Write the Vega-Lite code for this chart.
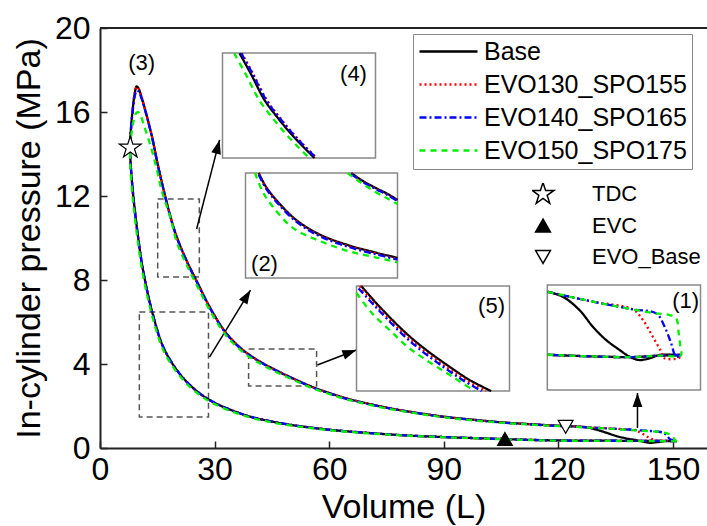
{
"$schema":"https://vega.github.io/schema/vega-lite/v6.json",
"width":607,"height":420,
"autosize":{"type":"none"},
"padding":{"left":100,"top":28,"right":0,"bottom":78},
"background":"white",
"config":{
 "view":{"stroke":null},
 "font":"Liberation Sans",
 "axis":{"domainColor":"#222","domainWidth":2,"tickColor":"#222","tickWidth":1.5,"tickSize":-7,"labelFont":"Liberation Sans","labelFontSize":32,"labelColor":"black","titleFont":"Liberation Sans","titleFontSize":34,"titleFontWeight":"normal","titleColor":"black","grid":false,"labelFlush":false,"labelOverlap":false}
},
"datasets":{
"frame":[{"v":0,"v2":158.9,"p":20}],
"boxes":[{"v":15.1,"v2":26.0,"p":8.14,"p2":11.86},{"v":10.3,"v2":28.4,"p":1.48,"p2":6.48},{"v":38.9,"v2":56.7,"p":2.95,"p2":4.71}],
"insets":[{"v":32.07,"v2":72.12,"p":13.81,"p2":18.81},{"v":38.09,"v2":77.88,"p":8.1,"p2":13.1},{"v":67.15,"v2":107.2,"p":2.71,"p2":7.71},{"v":117.1,"v2":157.2,"p":2.76,"p2":7.76}],
"arrows":[{"v":25.3,"p":10.43,"v2":31.3,"p2":14.67,"a":14.5},{"v":28.66,"p":4.33,"v2":39.4,"p2":7.52,"a":31.5},{"v":56.9,"p":3.95,"v2":67.1,"p2":4.67,"a":69},{"v":140.7,"p":0.95,"v2":140.7,"p2":2.62,"a":0}],
"heads":[{"v":31.3,"p":14.67,"a":14.5},{"v":39.4,"p":7.52,"a":31.5},{"v":67.1,"p":4.67,"a":69},{"v":140.7,"p":2.62,"a":0}],
"labels":[{"v":10.9,"p":18.33,"t":"(3)"},{"v":66.36,"p":17.81,"t":"(4)"},{"v":43.06,"p":8.76,"t":"(2)"},{"v":102.5,"p":6.76,"t":"(5)"},{"v":153.3,"p":7.0,"t":"(1)"}],
"markers":[{"m":"TDC","v":7.93,"p":14.3},{"m":"EVC","v":106,"p":0.43},{"m":"EVO_Base","v":121.9,"p":1.01}],
"curves":[
{"s":"Base","g":"main","o":1,"v":151,"p":0.33},{"s":"Base","g":"main","o":2,"v":145,"p":0.34},{"s":"Base","g":"main","o":3,"v":140,"p":0.34},{"s":"Base","g":"main","o":4,"v":130,"p":0.35},{"s":"Base","g":"main","o":5,"v":120,"p":0.36},{"s":"Base","g":"main","o":6,"v":110,"p":0.4},{"s":"Base","g":"main","o":7,"v":100,"p":0.46},{"s":"Base","g":"main","o":8,"v":90,"p":0.52},{"s":"Base","g":"main","o":9,"v":80,"p":0.6},{"s":"Base","g":"main","o":10,"v":70,"p":0.72},{"s":"Base","g":"main","o":11,"v":60,"p":0.87},{"s":"Base","g":"main","o":12,"v":50,"p":1.1},{"s":"Base","g":"main","o":13,"v":45,"p":1.26},{"s":"Base","g":"main","o":14,"v":40,"p":1.46},{"s":"Base","g":"main","o":15,"v":35,"p":1.76},{"s":"Base","g":"main","o":16,"v":30,"p":2.15},{"s":"Base","g":"main","o":17,"v":27,"p":2.48},{"s":"Base","g":"main","o":18,"v":24,"p":2.92},{"s":"Base","g":"main","o":19,"v":21,"p":3.5},{"s":"Base","g":"main","o":20,"v":18,"p":4.3},{"s":"Base","g":"main","o":21,"v":16,"p":5.05},{"s":"Base","g":"main","o":22,"v":14,"p":6.25},{"s":"Base","g":"main","o":23,"v":12.5,"p":7.35},{"s":"Base","g":"main","o":24,"v":11,"p":8.75},{"s":"Base","g":"main","o":25,"v":10,"p":10.0},{"s":"Base","g":"main","o":26,"v":9,"p":11.5},{"s":"Base","g":"main","o":27,"v":8.5,"p":12.4},{"s":"Base","g":"main","o":28,"v":8.0,"p":13.6},{"s":"Base","g":"main","o":29,"v":7.85,"p":14.3},{"s":"Base","g":"main","o":30,"v":8.1,"p":15.2},{"s":"Base","g":"main","o":31,"v":8.6,"p":16.2},{"s":"Base","g":"main","o":32,"v":9.1,"p":16.9},{"s":"Base","g":"main","o":33,"v":9.6,"p":17.22},{"s":"Base","g":"main","o":34,"v":10.1,"p":17.12},{"s":"Base","g":"main","o":35,"v":10.8,"p":16.75},{"s":"Base","g":"main","o":36,"v":11.6,"p":16.25},{"s":"Base","g":"main","o":37,"v":12.7,"p":15.5},{"s":"Base","g":"main","o":38,"v":13.8,"p":14.67},{"s":"Base","g":"main","o":39,"v":15,"p":13.6},{"s":"Base","g":"main","o":40,"v":16,"p":12.8},{"s":"Base","g":"main","o":41,"v":18.2,"p":11.18},{"s":"Base","g":"main","o":42,"v":20,"p":10.1},{"s":"Base","g":"main","o":43,"v":22.6,"p":8.95},{"s":"Base","g":"main","o":44,"v":25.6,"p":7.84},{"s":"Base","g":"main","o":45,"v":29,"p":6.62},{"s":"Base","g":"main","o":46,"v":33,"p":5.48},{"s":"Base","g":"main","o":47,"v":37.4,"p":4.67},{"s":"Base","g":"main","o":48,"v":42,"p":4.1},{"s":"Base","g":"main","o":49,"v":46,"p":3.71},{"s":"Base","g":"main","o":50,"v":50,"p":3.36},{"s":"Base","g":"main","o":51,"v":55,"p":2.95},{"s":"Base","g":"main","o":52,"v":60,"p":2.62},{"s":"Base","g":"main","o":53,"v":65,"p":2.34},{"s":"Base","g":"main","o":54,"v":70,"p":2.12},{"s":"Base","g":"main","o":55,"v":76,"p":1.89},{"s":"Base","g":"main","o":56,"v":82,"p":1.7},{"s":"Base","g":"main","o":57,"v":90,"p":1.49},{"s":"Base","g":"main","o":58,"v":98,"p":1.34},{"s":"Base","g":"main","o":59,"v":106,"p":1.21},{"s":"Base","g":"main","o":60,"v":113,"p":1.13},{"s":"Base","g":"main","o":61,"v":120,"p":1.06},{"s":"Base","g":"main","o":62,"v":124,"p":1.03},{"s":"Base","g":"main","o":63,"v":126.5,"p":1.0},{"s":"Base","g":"main","o":64,"v":129,"p":0.92},{"s":"Base","g":"main","o":65,"v":132,"p":0.76},{"s":"Base","g":"main","o":66,"v":135,"p":0.58},{"s":"Base","g":"main","o":67,"v":138,"p":0.45},{"s":"Base","g":"main","o":68,"v":140.5,"p":0.37},{"s":"Base","g":"main","o":69,"v":142.5,"p":0.29},{"s":"Base","g":"main","o":70,"v":144,"p":0.25},{"s":"Base","g":"main","o":71,"v":146,"p":0.28},{"s":"Base","g":"main","o":72,"v":148,"p":0.33},{"s":"Base","g":"main","o":73,"v":151,"p":0.33},

{"s":"EVO130_SPO155","g":"main","o":1,"v":151,"p":0.33},{"s":"EVO130_SPO155","g":"main","o":2,"v":145,"p":0.34},{"s":"EVO130_SPO155","g":"main","o":3,"v":140,"p":0.34},{"s":"EVO130_SPO155","g":"main","o":4,"v":130,"p":0.35},{"s":"EVO130_SPO155","g":"main","o":5,"v":120,"p":0.36},{"s":"EVO130_SPO155","g":"main","o":6,"v":110,"p":0.4},{"s":"EVO130_SPO155","g":"main","o":7,"v":100,"p":0.46},{"s":"EVO130_SPO155","g":"main","o":8,"v":90,"p":0.52},{"s":"EVO130_SPO155","g":"main","o":9,"v":80,"p":0.6},{"s":"EVO130_SPO155","g":"main","o":10,"v":70,"p":0.72},{"s":"EVO130_SPO155","g":"main","o":11,"v":60,"p":0.87},{"s":"EVO130_SPO155","g":"main","o":12,"v":50,"p":1.1},{"s":"EVO130_SPO155","g":"main","o":13,"v":45,"p":1.26},{"s":"EVO130_SPO155","g":"main","o":14,"v":40,"p":1.46},{"s":"EVO130_SPO155","g":"main","o":15,"v":35,"p":1.76},{"s":"EVO130_SPO155","g":"main","o":16,"v":30,"p":2.15},{"s":"EVO130_SPO155","g":"main","o":17,"v":27,"p":2.48},{"s":"EVO130_SPO155","g":"main","o":18,"v":24,"p":2.92},{"s":"EVO130_SPO155","g":"main","o":19,"v":21,"p":3.5},{"s":"EVO130_SPO155","g":"main","o":20,"v":18,"p":4.3},{"s":"EVO130_SPO155","g":"main","o":21,"v":16,"p":5.05},{"s":"EVO130_SPO155","g":"main","o":22,"v":14,"p":6.25},{"s":"EVO130_SPO155","g":"main","o":23,"v":12.5,"p":7.35},{"s":"EVO130_SPO155","g":"main","o":24,"v":11,"p":8.75},{"s":"EVO130_SPO155","g":"main","o":25,"v":10,"p":10.0},{"s":"EVO130_SPO155","g":"main","o":26,"v":9,"p":11.5},{"s":"EVO130_SPO155","g":"main","o":27,"v":8.5,"p":12.4},{"s":"EVO130_SPO155","g":"main","o":28,"v":8.0,"p":13.6},{"s":"EVO130_SPO155","g":"main","o":29,"v":7.85,"p":14.3},{"s":"EVO130_SPO155","g":"main","o":30,"v":8.1,"p":15.2},{"s":"EVO130_SPO155","g":"main","o":31,"v":8.6,"p":16.2},{"s":"EVO130_SPO155","g":"main","o":32,"v":9.1,"p":16.9},{"s":"EVO130_SPO155","g":"main","o":33,"v":9.6,"p":17.2},{"s":"EVO130_SPO155","g":"main","o":34,"v":10.1,"p":17.12},{"s":"EVO130_SPO155","g":"main","o":35,"v":10.8,"p":16.75},{"s":"EVO130_SPO155","g":"main","o":36,"v":11.6,"p":16.25},{"s":"EVO130_SPO155","g":"main","o":37,"v":12.7,"p":15.5},{"s":"EVO130_SPO155","g":"main","o":38,"v":13.8,"p":14.67},{"s":"EVO130_SPO155","g":"main","o":39,"v":15,"p":13.6},{"s":"EVO130_SPO155","g":"main","o":40,"v":16,"p":12.8},{"s":"EVO130_SPO155","g":"main","o":41,"v":18.2,"p":11.18},{"s":"EVO130_SPO155","g":"main","o":42,"v":20,"p":10.1},{"s":"EVO130_SPO155","g":"main","o":43,"v":22.6,"p":8.95},{"s":"EVO130_SPO155","g":"main","o":44,"v":25.6,"p":7.84},{"s":"EVO130_SPO155","g":"main","o":45,"v":29,"p":6.62},{"s":"EVO130_SPO155","g":"main","o":46,"v":33,"p":5.48},{"s":"EVO130_SPO155","g":"main","o":47,"v":37.4,"p":4.67},{"s":"EVO130_SPO155","g":"main","o":48,"v":42,"p":4.1},{"s":"EVO130_SPO155","g":"main","o":49,"v":46,"p":3.71},{"s":"EVO130_SPO155","g":"main","o":50,"v":50,"p":3.36},{"s":"EVO130_SPO155","g":"main","o":51,"v":55,"p":2.95},{"s":"EVO130_SPO155","g":"main","o":52,"v":60,"p":2.62},{"s":"EVO130_SPO155","g":"main","o":53,"v":65,"p":2.34},{"s":"EVO130_SPO155","g":"main","o":54,"v":70,"p":2.12},{"s":"EVO130_SPO155","g":"main","o":55,"v":76,"p":1.89},{"s":"EVO130_SPO155","g":"main","o":56,"v":82,"p":1.7},{"s":"EVO130_SPO155","g":"main","o":57,"v":90,"p":1.49},{"s":"EVO130_SPO155","g":"main","o":58,"v":98,"p":1.34},{"s":"EVO130_SPO155","g":"main","o":59,"v":106,"p":1.21},{"s":"EVO130_SPO155","g":"main","o":60,"v":113,"p":1.13},{"s":"EVO130_SPO155","g":"main","o":61,"v":120,"p":1.06},{"s":"EVO130_SPO155","g":"main","o":62,"v":124,"p":1.03},{"s":"EVO130_SPO155","g":"main","o":63,"v":128,"p":0.99},{"s":"EVO130_SPO155","g":"main","o":64,"v":132,"p":0.95},{"s":"EVO130_SPO155","g":"main","o":65,"v":136,"p":0.91},{"s":"EVO130_SPO155","g":"main","o":66,"v":139.5,"p":0.87},{"s":"EVO130_SPO155","g":"main","o":67,"v":141,"p":0.78},{"s":"EVO130_SPO155","g":"main","o":68,"v":142.5,"p":0.62},{"s":"EVO130_SPO155","g":"main","o":69,"v":144,"p":0.47},{"s":"EVO130_SPO155","g":"main","o":70,"v":145.5,"p":0.37},{"s":"EVO130_SPO155","g":"main","o":71,"v":148,"p":0.34},{"s":"EVO130_SPO155","g":"main","o":72,"v":151,"p":0.33},

{"s":"EVO140_SPO165","g":"main","o":1,"v":151,"p":0.33},{"s":"EVO140_SPO165","g":"main","o":2,"v":145,"p":0.34},{"s":"EVO140_SPO165","g":"main","o":3,"v":140,"p":0.34},{"s":"EVO140_SPO165","g":"main","o":4,"v":130,"p":0.35},{"s":"EVO140_SPO165","g":"main","o":5,"v":120,"p":0.36},{"s":"EVO140_SPO165","g":"main","o":6,"v":110,"p":0.4},{"s":"EVO140_SPO165","g":"main","o":7,"v":100,"p":0.46},{"s":"EVO140_SPO165","g":"main","o":8,"v":90,"p":0.52},{"s":"EVO140_SPO165","g":"main","o":9,"v":80,"p":0.6},{"s":"EVO140_SPO165","g":"main","o":10,"v":70,"p":0.72},{"s":"EVO140_SPO165","g":"main","o":11,"v":60,"p":0.87},{"s":"EVO140_SPO165","g":"main","o":12,"v":50,"p":1.1},{"s":"EVO140_SPO165","g":"main","o":13,"v":45,"p":1.26},{"s":"EVO140_SPO165","g":"main","o":14,"v":40,"p":1.46},{"s":"EVO140_SPO165","g":"main","o":15,"v":35,"p":1.76},{"s":"EVO140_SPO165","g":"main","o":16,"v":30,"p":2.15},{"s":"EVO140_SPO165","g":"main","o":17,"v":27,"p":2.48},{"s":"EVO140_SPO165","g":"main","o":18,"v":24,"p":2.92},{"s":"EVO140_SPO165","g":"main","o":19,"v":21,"p":3.5},{"s":"EVO140_SPO165","g":"main","o":20,"v":18,"p":4.3},{"s":"EVO140_SPO165","g":"main","o":21,"v":16,"p":5.05},{"s":"EVO140_SPO165","g":"main","o":22,"v":14,"p":6.25},{"s":"EVO140_SPO165","g":"main","o":23,"v":12.5,"p":7.35},{"s":"EVO140_SPO165","g":"main","o":24,"v":11,"p":8.75},{"s":"EVO140_SPO165","g":"main","o":25,"v":10,"p":10.0},{"s":"EVO140_SPO165","g":"main","o":26,"v":9,"p":11.5},{"s":"EVO140_SPO165","g":"main","o":27,"v":8.5,"p":12.4},{"s":"EVO140_SPO165","g":"main","o":28,"v":8.0,"p":13.6},{"s":"EVO140_SPO165","g":"main","o":29,"v":7.85,"p":14.3},{"s":"EVO140_SPO165","g":"main","o":30,"v":8.1,"p":15.15},{"s":"EVO140_SPO165","g":"main","o":31,"v":8.6,"p":16.1},{"s":"EVO140_SPO165","g":"main","o":32,"v":9.1,"p":16.75},{"s":"EVO140_SPO165","g":"main","o":33,"v":9.6,"p":17.02},{"s":"EVO140_SPO165","g":"main","o":34,"v":10.1,"p":16.98},{"s":"EVO140_SPO165","g":"main","o":35,"v":10.8,"p":16.68},{"s":"EVO140_SPO165","g":"main","o":36,"v":11.6,"p":16.22},{"s":"EVO140_SPO165","g":"main","o":37,"v":12.7,"p":15.48},{"s":"EVO140_SPO165","g":"main","o":38,"v":13.8,"p":14.65},{"s":"EVO140_SPO165","g":"main","o":39,"v":15,"p":13.58},{"s":"EVO140_SPO165","g":"main","o":40,"v":16,"p":12.78},{"s":"EVO140_SPO165","g":"main","o":41,"v":18.2,"p":11.15},{"s":"EVO140_SPO165","g":"main","o":42,"v":20,"p":10.07},{"s":"EVO140_SPO165","g":"main","o":43,"v":22.6,"p":8.92},{"s":"EVO140_SPO165","g":"main","o":44,"v":25.6,"p":7.81},{"s":"EVO140_SPO165","g":"main","o":45,"v":29,"p":6.59},{"s":"EVO140_SPO165","g":"main","o":46,"v":33,"p":5.45},{"s":"EVO140_SPO165","g":"main","o":47,"v":37.4,"p":4.64},{"s":"EVO140_SPO165","g":"main","o":48,"v":42,"p":4.08},{"s":"EVO140_SPO165","g":"main","o":49,"v":46,"p":3.69},{"s":"EVO140_SPO165","g":"main","o":50,"v":50,"p":3.34},{"s":"EVO140_SPO165","g":"main","o":51,"v":55,"p":2.93},{"s":"EVO140_SPO165","g":"main","o":52,"v":60,"p":2.6},{"s":"EVO140_SPO165","g":"main","o":53,"v":65,"p":2.32},{"s":"EVO140_SPO165","g":"main","o":54,"v":70,"p":2.1},{"s":"EVO140_SPO165","g":"main","o":55,"v":76,"p":1.88},{"s":"EVO140_SPO165","g":"main","o":56,"v":82,"p":1.69},{"s":"EVO140_SPO165","g":"main","o":57,"v":90,"p":1.48},{"s":"EVO140_SPO165","g":"main","o":58,"v":98,"p":1.33},{"s":"EVO140_SPO165","g":"main","o":59,"v":106,"p":1.2},{"s":"EVO140_SPO165","g":"main","o":60,"v":113,"p":1.12},{"s":"EVO140_SPO165","g":"main","o":61,"v":120,"p":1.05},{"s":"EVO140_SPO165","g":"main","o":62,"v":124,"p":1.02},{"s":"EVO140_SPO165","g":"main","o":63,"v":128,"p":0.98},{"s":"EVO140_SPO165","g":"main","o":64,"v":132,"p":0.94},{"s":"EVO140_SPO165","g":"main","o":65,"v":136,"p":0.9},{"s":"EVO140_SPO165","g":"main","o":66,"v":140,"p":0.86},{"s":"EVO140_SPO165","g":"main","o":67,"v":144,"p":0.81},{"s":"EVO140_SPO165","g":"main","o":68,"v":146,"p":0.78},{"s":"EVO140_SPO165","g":"main","o":69,"v":147.5,"p":0.72},{"s":"EVO140_SPO165","g":"main","o":70,"v":148.5,"p":0.58},{"s":"EVO140_SPO165","g":"main","o":71,"v":149.2,"p":0.42},{"s":"EVO140_SPO165","g":"main","o":72,"v":151,"p":0.33},

{"s":"EVO150_SPO175","g":"main","o":1,"v":151,"p":0.32},{"s":"EVO150_SPO175","g":"main","o":2,"v":145,"p":0.33},{"s":"EVO150_SPO175","g":"main","o":3,"v":140,"p":0.33},{"s":"EVO150_SPO175","g":"main","o":4,"v":130,"p":0.34},{"s":"EVO150_SPO175","g":"main","o":5,"v":120,"p":0.35},{"s":"EVO150_SPO175","g":"main","o":6,"v":110,"p":0.39},{"s":"EVO150_SPO175","g":"main","o":7,"v":100,"p":0.45},{"s":"EVO150_SPO175","g":"main","o":8,"v":90,"p":0.51},{"s":"EVO150_SPO175","g":"main","o":9,"v":80,"p":0.59},{"s":"EVO150_SPO175","g":"main","o":10,"v":70,"p":0.7},{"s":"EVO150_SPO175","g":"main","o":11,"v":60,"p":0.85},{"s":"EVO150_SPO175","g":"main","o":12,"v":50,"p":1.07},{"s":"EVO150_SPO175","g":"main","o":13,"v":45,"p":1.22},{"s":"EVO150_SPO175","g":"main","o":14,"v":40,"p":1.42},{"s":"EVO150_SPO175","g":"main","o":15,"v":35,"p":1.71},{"s":"EVO150_SPO175","g":"main","o":16,"v":30,"p":2.09},{"s":"EVO150_SPO175","g":"main","o":17,"v":27,"p":2.41},{"s":"EVO150_SPO175","g":"main","o":18,"v":24,"p":2.83},{"s":"EVO150_SPO175","g":"main","o":19,"v":21,"p":3.4},{"s":"EVO150_SPO175","g":"main","o":20,"v":18,"p":4.17},{"s":"EVO150_SPO175","g":"main","o":21,"v":16,"p":4.9},{"s":"EVO150_SPO175","g":"main","o":22,"v":14,"p":6.06},{"s":"EVO150_SPO175","g":"main","o":23,"v":12.5,"p":7.13},{"s":"EVO150_SPO175","g":"main","o":24,"v":11,"p":8.49},{"s":"EVO150_SPO175","g":"main","o":25,"v":10,"p":9.7},{"s":"EVO150_SPO175","g":"main","o":26,"v":9,"p":11.15},{"s":"EVO150_SPO175","g":"main","o":27,"v":8.5,"p":12.0},{"s":"EVO150_SPO175","g":"main","o":28,"v":8.0,"p":13.2},{"s":"EVO150_SPO175","g":"main","o":29,"v":7.85,"p":14.0},{"s":"EVO150_SPO175","g":"main","o":30,"v":8.2,"p":14.9},{"s":"EVO150_SPO175","g":"main","o":31,"v":8.7,"p":15.5},{"s":"EVO150_SPO175","g":"main","o":32,"v":9.3,"p":15.9},{"s":"EVO150_SPO175","g":"main","o":33,"v":9.9,"p":16.0},{"s":"EVO150_SPO175","g":"main","o":34,"v":10.6,"p":15.85},{"s":"EVO150_SPO175","g":"main","o":35,"v":11.6,"p":15.3},{"s":"EVO150_SPO175","g":"main","o":36,"v":12.7,"p":14.7},{"s":"EVO150_SPO175","g":"main","o":37,"v":13.8,"p":14.03},{"s":"EVO150_SPO175","g":"main","o":38,"v":15,"p":13.15},{"s":"EVO150_SPO175","g":"main","o":39,"v":16,"p":12.35},{"s":"EVO150_SPO175","g":"main","o":40,"v":18.6,"p":10.86},{"s":"EVO150_SPO175","g":"main","o":41,"v":20,"p":9.85},{"s":"EVO150_SPO175","g":"main","o":42,"v":22.6,"p":8.75},{"s":"EVO150_SPO175","g":"main","o":43,"v":25.6,"p":7.66},{"s":"EVO150_SPO175","g":"main","o":44,"v":29,"p":6.47},{"s":"EVO150_SPO175","g":"main","o":45,"v":33,"p":5.36},{"s":"EVO150_SPO175","g":"main","o":46,"v":37.4,"p":4.57},{"s":"EVO150_SPO175","g":"main","o":47,"v":42,"p":4.01},{"s":"EVO150_SPO175","g":"main","o":48,"v":46,"p":3.63},{"s":"EVO150_SPO175","g":"main","o":49,"v":50,"p":3.29},{"s":"EVO150_SPO175","g":"main","o":50,"v":55,"p":2.89},{"s":"EVO150_SPO175","g":"main","o":51,"v":60,"p":2.57},{"s":"EVO150_SPO175","g":"main","o":52,"v":65,"p":2.29},{"s":"EVO150_SPO175","g":"main","o":53,"v":70,"p":2.08},{"s":"EVO150_SPO175","g":"main","o":54,"v":76,"p":1.85},{"s":"EVO150_SPO175","g":"main","o":55,"v":82,"p":1.67},{"s":"EVO150_SPO175","g":"main","o":56,"v":90,"p":1.46},{"s":"EVO150_SPO175","g":"main","o":57,"v":98,"p":1.31},{"s":"EVO150_SPO175","g":"main","o":58,"v":106,"p":1.19},{"s":"EVO150_SPO175","g":"main","o":59,"v":113,"p":1.11},{"s":"EVO150_SPO175","g":"main","o":60,"v":120,"p":1.04},{"s":"EVO150_SPO175","g":"main","o":61,"v":124,"p":1.01},{"s":"EVO150_SPO175","g":"main","o":62,"v":128,"p":0.97},{"s":"EVO150_SPO175","g":"main","o":63,"v":132,"p":0.93},{"s":"EVO150_SPO175","g":"main","o":64,"v":136,"p":0.89},{"s":"EVO150_SPO175","g":"main","o":65,"v":140,"p":0.84},{"s":"EVO150_SPO175","g":"main","o":66,"v":144,"p":0.8},{"s":"EVO150_SPO175","g":"main","o":67,"v":146,"p":0.77},{"s":"EVO150_SPO175","g":"main","o":68,"v":148,"p":0.72},{"s":"EVO150_SPO175","g":"main","o":69,"v":149.3,"p":0.64},{"s":"EVO150_SPO175","g":"main","o":70,"v":150,"p":0.52},{"s":"EVO150_SPO175","g":"main","o":71,"v":150.4,"p":0.4},{"s":"EVO150_SPO175","g":"main","o":72,"v":151,"p":0.32},

{"s":"Base","g":"i4","o":1,"v":36.52,"p":18.8},{"s":"Base","g":"i4","o":2,"v":39.66,"p":17.76},{"s":"Base","g":"i4","o":3,"v":43.06,"p":16.57},{"s":"Base","g":"i4","o":4,"v":45.94,"p":15.86},{"s":"Base","g":"i4","o":5,"v":49.16,"p":15.14},{"s":"Base","g":"i4","o":6,"v":52.75,"p":14.43},{"s":"Base","g":"i4","o":7,"v":56.15,"p":13.81},
{"s":"EVO130_SPO155","g":"i4","o":1,"v":37.12,"p":18.8},{"s":"EVO130_SPO155","g":"i4","o":2,"v":40.26,"p":17.76},{"s":"EVO130_SPO155","g":"i4","o":3,"v":43.66,"p":16.57},{"s":"EVO130_SPO155","g":"i4","o":4,"v":46.54,"p":15.86},{"s":"EVO130_SPO155","g":"i4","o":5,"v":49.76,"p":15.14},{"s":"EVO130_SPO155","g":"i4","o":6,"v":53.35,"p":14.43},{"s":"EVO130_SPO155","g":"i4","o":7,"v":56.75,"p":13.81},
{"s":"EVO140_SPO165","g":"i4","o":1,"v":36.97,"p":18.8},{"s":"EVO140_SPO165","g":"i4","o":2,"v":40.11,"p":17.76},{"s":"EVO140_SPO165","g":"i4","o":3,"v":43.51,"p":16.57},{"s":"EVO140_SPO165","g":"i4","o":4,"v":46.39,"p":15.86},{"s":"EVO140_SPO165","g":"i4","o":5,"v":49.61,"p":15.14},{"s":"EVO140_SPO165","g":"i4","o":6,"v":53.2,"p":14.43},{"s":"EVO140_SPO165","g":"i4","o":7,"v":56.6,"p":13.81},
{"s":"EVO150_SPO175","g":"i4","o":1,"v":35.12,"p":18.8},{"s":"EVO150_SPO175","g":"i4","o":2,"v":38.26,"p":17.76},{"s":"EVO150_SPO175","g":"i4","o":3,"v":41.66,"p":16.57},{"s":"EVO150_SPO175","g":"i4","o":4,"v":44.54,"p":15.86},{"s":"EVO150_SPO175","g":"i4","o":5,"v":47.76,"p":15.14},{"s":"EVO150_SPO175","g":"i4","o":6,"v":51.35,"p":14.43},{"s":"EVO150_SPO175","g":"i4","o":7,"v":54.75,"p":13.81},

{"s":"Base","g":"i2a","o":1,"v":41.57,"p":13.09},{"s":"Base","g":"i2a","o":2,"v":43.32,"p":12.48},{"s":"Base","g":"i2a","o":3,"v":46.13,"p":11.81},{"s":"Base","g":"i2a","o":4,"v":51.36,"p":10.86},{"s":"Base","g":"i2a","o":5,"v":57.46,"p":10.17},{"s":"Base","g":"i2a","o":6,"v":65.31,"p":9.64},{"s":"Base","g":"i2a","o":7,"v":72.3,"p":9.3},{"s":"Base","g":"i2a","o":8,"v":77.88,"p":9.05},
{"s":"EVO130_SPO155","g":"i2a","o":1,"v":41.57,"p":13.05},{"s":"EVO130_SPO155","g":"i2a","o":2,"v":43.32,"p":12.44},{"s":"EVO130_SPO155","g":"i2a","o":3,"v":46.13,"p":11.77},{"s":"EVO130_SPO155","g":"i2a","o":4,"v":51.36,"p":10.82},{"s":"EVO130_SPO155","g":"i2a","o":5,"v":57.46,"p":10.13},{"s":"EVO130_SPO155","g":"i2a","o":6,"v":65.31,"p":9.6},{"s":"EVO130_SPO155","g":"i2a","o":7,"v":72.3,"p":9.26},{"s":"EVO130_SPO155","g":"i2a","o":8,"v":77.88,"p":9.01},
{"s":"EVO140_SPO165","g":"i2a","o":1,"v":41.57,"p":13.01},{"s":"EVO140_SPO165","g":"i2a","o":2,"v":43.32,"p":12.4},{"s":"EVO140_SPO165","g":"i2a","o":3,"v":46.13,"p":11.73},{"s":"EVO140_SPO165","g":"i2a","o":4,"v":51.36,"p":10.78},{"s":"EVO140_SPO165","g":"i2a","o":5,"v":57.46,"p":10.09},{"s":"EVO140_SPO165","g":"i2a","o":6,"v":65.31,"p":9.56},{"s":"EVO140_SPO165","g":"i2a","o":7,"v":72.3,"p":9.22},{"s":"EVO140_SPO165","g":"i2a","o":8,"v":77.88,"p":8.97},
{"s":"EVO150_SPO175","g":"i2a","o":1,"v":40.58,"p":13.1},{"s":"EVO150_SPO175","g":"i2a","o":2,"v":42.6,"p":12.2},{"s":"EVO150_SPO175","g":"i2a","o":3,"v":45.24,"p":11.49},{"s":"EVO150_SPO175","g":"i2a","o":4,"v":50.47,"p":10.48},{"s":"EVO150_SPO175","g":"i2a","o":5,"v":57.46,"p":9.86},{"s":"EVO150_SPO175","g":"i2a","o":6,"v":65.31,"p":9.36},{"s":"EVO150_SPO175","g":"i2a","o":7,"v":72.3,"p":9.07},{"s":"EVO150_SPO175","g":"i2a","o":8,"v":77.88,"p":8.84},

{"s":"Base","g":"i2b","o":1,"v":65.76,"p":13.09},{"s":"Base","g":"i2b","o":2,"v":68.9,"p":12.71},{"s":"Base","g":"i2b","o":3,"v":72.3,"p":12.37},{"s":"Base","g":"i2b","o":4,"v":75.26,"p":12.1},{"s":"Base","g":"i2b","o":5,"v":77.88,"p":11.81},
{"s":"EVO130_SPO155","g":"i2b","o":1,"v":65.76,"p":13.06},{"s":"EVO130_SPO155","g":"i2b","o":2,"v":68.9,"p":12.68},{"s":"EVO130_SPO155","g":"i2b","o":3,"v":72.3,"p":12.34},{"s":"EVO130_SPO155","g":"i2b","o":4,"v":75.26,"p":12.07},{"s":"EVO130_SPO155","g":"i2b","o":5,"v":77.88,"p":11.78},
{"s":"EVO140_SPO165","g":"i2b","o":1,"v":65.76,"p":13.04},{"s":"EVO140_SPO165","g":"i2b","o":2,"v":68.9,"p":12.66},{"s":"EVO140_SPO165","g":"i2b","o":3,"v":72.3,"p":12.32},{"s":"EVO140_SPO165","g":"i2b","o":4,"v":75.26,"p":12.05},{"s":"EVO140_SPO165","g":"i2b","o":5,"v":77.88,"p":11.76},
{"s":"EVO150_SPO175","g":"i2b","o":1,"v":64.8,"p":13.09},{"s":"EVO150_SPO175","g":"i2b","o":2,"v":68.46,"p":12.62},{"s":"EVO150_SPO175","g":"i2b","o":3,"v":72.1,"p":12.19},{"s":"EVO150_SPO175","g":"i2b","o":4,"v":75.26,"p":11.88},{"s":"EVO150_SPO175","g":"i2b","o":5,"v":77.88,"p":11.62},

{"s":"Base","g":"i5","o":1,"v":68.38,"p":7.71},{"s":"Base","g":"i5","o":2,"v":73.17,"p":6.73},{"s":"Base","g":"i5","o":3,"v":80.16,"p":5.46},{"s":"Base","g":"i5","o":4,"v":85.39,"p":4.67},{"s":"Base","g":"i5","o":5,"v":91.49,"p":3.87},{"s":"Base","g":"i5","o":6,"v":96.73,"p":3.24},{"s":"Base","g":"i5","o":7,"v":102.4,"p":2.71},
{"s":"EVO130_SPO155","g":"i5","o":1,"v":67.98,"p":7.71},{"s":"EVO130_SPO155","g":"i5","o":2,"v":72.6,"p":6.73},{"s":"EVO130_SPO155","g":"i5","o":3,"v":79.5,"p":5.46},{"s":"EVO130_SPO155","g":"i5","o":4,"v":84.6,"p":4.67},{"s":"EVO130_SPO155","g":"i5","o":5,"v":90.6,"p":3.87},{"s":"EVO130_SPO155","g":"i5","o":6,"v":95.8,"p":3.24},{"s":"EVO130_SPO155","g":"i5","o":7,"v":101.1,"p":2.71},
{"s":"EVO140_SPO165","g":"i5","o":1,"v":67.7,"p":7.6},{"s":"EVO140_SPO165","g":"i5","o":2,"v":72.1,"p":6.73},{"s":"EVO140_SPO165","g":"i5","o":3,"v":78.9,"p":5.46},{"s":"EVO140_SPO165","g":"i5","o":4,"v":83.9,"p":4.67},{"s":"EVO140_SPO165","g":"i5","o":5,"v":89.8,"p":3.87},{"s":"EVO140_SPO165","g":"i5","o":6,"v":94.9,"p":3.24},{"s":"EVO140_SPO165","g":"i5","o":7,"v":99.9,"p":2.71},
{"s":"EVO150_SPO175","g":"i5","o":1,"v":67.15,"p":7.38},{"s":"EVO150_SPO175","g":"i5","o":2,"v":71.2,"p":6.42},{"s":"EVO150_SPO175","g":"i5","o":3,"v":75.79,"p":5.62},{"s":"EVO150_SPO175","g":"i5","o":4,"v":80.5,"p":4.82},{"s":"EVO150_SPO175","g":"i5","o":5,"v":85.39,"p":4.19},{"s":"EVO150_SPO175","g":"i5","o":6,"v":92.0,"p":3.43},{"s":"EVO150_SPO175","g":"i5","o":7,"v":98.04,"p":2.71},

{"s":"Base","g":"i1","o":1,"v":117.2,"p":7.44},{"s":"Base","g":"i1","o":2,"v":121.2,"p":7.2},{"s":"Base","g":"i1","o":3,"v":125.5,"p":6.57},{"s":"Base","g":"i1","o":4,"v":129.0,"p":5.78},{"s":"Base","g":"i1","o":5,"v":132.5,"p":5.14},{"s":"Base","g":"i1","o":6,"v":136.0,"p":4.67},{"s":"Base","g":"i1","o":7,"v":138.6,"p":4.35},{"s":"Base","g":"i1","o":8,"v":141.2,"p":4.19},{"s":"Base","g":"i1","o":9,"v":143.8,"p":4.27},{"s":"Base","g":"i1","o":10,"v":146.5,"p":4.43},{"s":"Base","g":"i1","o":11,"v":152.1,"p":4.42},{"s":"Base","g":"i1","o":12,"v":146.5,"p":4.4},{"s":"Base","g":"i1","o":13,"v":139.5,"p":4.33},{"s":"Base","g":"i1","o":14,"v":129,"p":4.36},{"s":"Base","g":"i1","o":15,"v":117.2,"p":4.44},
{"s":"EVO130_SPO155","g":"i1","o":1,"v":117.2,"p":7.44},{"s":"EVO130_SPO155","g":"i1","o":2,"v":129.0,"p":6.97},{"s":"EVO130_SPO155","g":"i1","o":3,"v":139.5,"p":6.6},{"s":"EVO130_SPO155","g":"i1","o":4,"v":142.1,"p":6.1},{"s":"EVO130_SPO155","g":"i1","o":5,"v":144.7,"p":5.3},{"s":"EVO130_SPO155","g":"i1","o":6,"v":146.9,"p":4.59},{"s":"EVO130_SPO155","g":"i1","o":7,"v":147.8,"p":4.27},{"s":"EVO130_SPO155","g":"i1","o":8,"v":151.7,"p":4.3},{"s":"EVO130_SPO155","g":"i1","o":9,"v":152.1,"p":4.42},{"s":"EVO130_SPO155","g":"i1","o":10,"v":146.5,"p":4.4},{"s":"EVO130_SPO155","g":"i1","o":11,"v":139.5,"p":4.33},{"s":"EVO130_SPO155","g":"i1","o":12,"v":129,"p":4.36},{"s":"EVO130_SPO155","g":"i1","o":13,"v":117.2,"p":4.44},
{"s":"EVO140_SPO165","g":"i1","o":1,"v":117.2,"p":7.44},{"s":"EVO140_SPO165","g":"i1","o":2,"v":129.0,"p":6.97},{"s":"EVO140_SPO165","g":"i1","o":3,"v":139.5,"p":6.6},{"s":"EVO140_SPO165","g":"i1","o":4,"v":145.6,"p":6.41},{"s":"EVO140_SPO165","g":"i1","o":5,"v":147.8,"p":5.78},{"s":"EVO140_SPO165","g":"i1","o":6,"v":149.5,"p":4.99},{"s":"EVO140_SPO165","g":"i1","o":7,"v":150.8,"p":4.35},{"s":"EVO140_SPO165","g":"i1","o":8,"v":152.1,"p":4.42},{"s":"EVO140_SPO165","g":"i1","o":9,"v":146.5,"p":4.4},{"s":"EVO140_SPO165","g":"i1","o":10,"v":139.5,"p":4.33},{"s":"EVO140_SPO165","g":"i1","o":11,"v":129,"p":4.36},{"s":"EVO140_SPO165","g":"i1","o":12,"v":117.2,"p":4.44},
{"s":"EVO150_SPO175","g":"i1","o":1,"v":117.2,"p":7.44},{"s":"EVO150_SPO175","g":"i1","o":2,"v":129.0,"p":6.97},{"s":"EVO150_SPO175","g":"i1","o":3,"v":139.5,"p":6.6},{"s":"EVO150_SPO175","g":"i1","o":4,"v":145.6,"p":6.41},{"s":"EVO150_SPO175","g":"i1","o":5,"v":149.1,"p":6.33},{"s":"EVO150_SPO175","g":"i1","o":6,"v":150.8,"p":6.18},{"s":"EVO150_SPO175","g":"i1","o":7,"v":151.5,"p":5.46},{"s":"EVO150_SPO175","g":"i1","o":8,"v":151.9,"p":4.82},{"s":"EVO150_SPO175","g":"i1","o":9,"v":152.1,"p":4.42},{"s":"EVO150_SPO175","g":"i1","o":10,"v":146.5,"p":4.4},{"s":"EVO150_SPO175","g":"i1","o":11,"v":139.5,"p":4.33},{"s":"EVO150_SPO175","g":"i1","o":12,"v":129,"p":4.36},{"s":"EVO150_SPO175","g":"i1","o":13,"v":117.2,"p":4.44}
]
},
"encoding":{
 "x":{"field":"v","type":"quantitative","scale":{"domain":[0,158.9],"nice":false,"zero":false},"axis":{"title":"Volume (L)","values":[0,30,60,90,120,150],"labelPadding":13,"titlePadding":5}},
 "y":{"field":"p","type":"quantitative","scale":{"domain":[0,20],"nice":false},"axis":{"title":"In-cylinder pressure (MPa)","values":[0,4,8,12,16,20],"labelPadding":17,"titlePadding":8}}
},
"layer":[
 {"data":{"name":"frame"},"mark":{"type":"rule","color":"#222","strokeWidth":2},"encoding":{"x2":{"field":"v2"}}},
 {"data":{"name":"boxes"},"mark":{"type":"rect","fillOpacity":0,"stroke":"#555","strokeWidth":1.5,"strokeDash":[6,4]},"encoding":{"x2":{"field":"v2"},"y2":{"field":"p2"}}},
 {"data":{"name":"arrows"},"mark":{"type":"rule","color":"black","strokeWidth":1.5},"encoding":{"x2":{"field":"v2"},"y2":{"field":"p2"}}},
 {"data":{"name":"heads"},"mark":{"type":"point","filled":true,"color":"black","opacity":1,"size":196,"shape":"M0,0L0.7,2L-0.7,2Z"},"encoding":{"angle":{"field":"a","type":"quantitative","scale":null}}},
 {"data":{"name":"insets"},"mark":{"type":"rect","fill":"white","stroke":"#888","strokeWidth":1.5},"encoding":{"x2":{"field":"v2"},"y2":{"field":"p2"}}},
 {"data":{"name":"curves"},"mark":{"type":"line","strokeWidth":2.3,"interpolate":"catmull-rom"},
  "encoding":{
   "detail":{"field":"g"},
   "order":{"field":"o","type":"quantitative"},
   "color":{"field":"s","type":"nominal","scale":{"domain":["Base","EVO130_SPO155","EVO140_SPO165","EVO150_SPO175"],"range":["#000000","#ff0000","#0000ff","#00ee00"]},
     "legend":{"title":null,"orient":"none","legendX":313,"legendY":6,"padding":5,"strokeColor":"#888","fillColor":"white","labelFontSize":25,"labelFont":"Liberation Sans","labelColor":"black","labelLimit":400,"symbolType":"stroke","symbolSize":3364,"symbolStrokeWidth":2.3,"clipHeight":25,"rowPadding":7,"labelOffset":5}},
   "strokeDash":{"field":"s","type":"nominal","scale":{"domain":["Base","EVO130_SPO155","EVO140_SPO165","EVO150_SPO175"],"range":[[1,0],[2,3],[7,3,2,3],[6,5]]},
     "legend":{"title":null,"orient":"none","legendX":313,"legendY":6,"padding":5,"strokeColor":"#888","fillColor":"white","labelFontSize":25,"labelFont":"Liberation Sans","labelColor":"black","labelLimit":400,"symbolType":"stroke","symbolSize":3364,"symbolStrokeWidth":2.3,"clipHeight":25,"rowPadding":7,"labelOffset":5}}
  }},
 {"data":{"name":"labels"},"mark":{"type":"text","fontSize":22,"font":"Liberation Sans","color":"black","align":"center","baseline":"middle"},"encoding":{"text":{"field":"t"}}},
 {"data":{"name":"markers"},"mark":{"type":"point","filled":true,"stroke":"black","strokeWidth":1.2,"opacity":1,"size":220},
  "encoding":{
   "shape":{"field":"m","type":"nominal","scale":{"domain":["TDC","EVC","EVO_Base"],"range":["M0,-1.55L0.349,-0.479L1.474,-0.479L0.563,0.183L0.911,1.254L0,0.592L-0.911,1.254L-0.563,0.183L-1.474,-0.479L-0.349,-0.479Z","triangle-up","triangle-down"]},
     "legend":{"title":null,"orient":"none","legendX":432,"legendY":155,"padding":0,"labelFontSize":22,"labelFont":"Liberation Sans","labelColor":"black","symbolSize":220,"labelOffset":38,"rowPadding":9.5,"clipHeight":22,"encode":{"symbols":{"update":{"stroke":{"value":"black"},"strokeWidth":{"value":1.2}}}}}},
   "fill":{"field":"m","type":"nominal","scale":{"domain":["TDC","EVC","EVO_Base"],"range":["white","black","white"]},
     "legend":{"title":null,"orient":"none","legendX":432,"legendY":155,"padding":0,"labelFontSize":22,"labelFont":"Liberation Sans","labelColor":"black","symbolSize":220,"labelOffset":38,"rowPadding":9.5,"clipHeight":22,"encode":{"symbols":{"update":{"stroke":{"value":"black"},"strokeWidth":{"value":1.2}}}}}}
  }}
]
}
